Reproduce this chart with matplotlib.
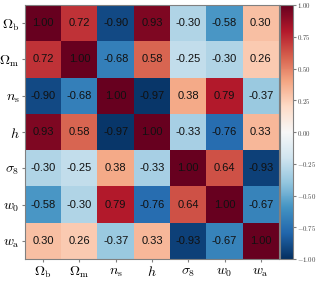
import numpy as np
import matplotlib
matplotlib.use("Agg")
import matplotlib.pyplot as plt

plt.rcParams['mathtext.fontset'] = 'cm'

params = [r'$\Omega_{\rm b}$', r'$\Omega_{\rm m}$', r'$n_{\rm s}$', r'$h$',
          r'$\sigma_8$', r'$w_0$', r'$w_{\rm a}$']

row_ob = [1.00, 0.72, -0.90, 0.93, -0.30, -0.58, 0.30]
row_om = [0.72, 1.00, -0.68, 0.58, -0.25, -0.30, 0.26]
row_ns = [-0.90, -0.68, 1.00, -0.97, 0.38, 0.79, -0.37]
row_h = [0.93, 0.58, -0.97, 1.00, -0.33, -0.76, 0.33]
row_s8 = [-0.30, -0.25, 0.38, -0.33, 1.00, 0.64, -0.93]
row_w0 = [-0.58, -0.30, 0.79, -0.76, 0.64, 1.00, -0.67]
row_wa = [0.30, 0.26, -0.37, 0.33, -0.93, -0.67, 1.00]

corr = np.array([row_ob, row_om, row_ns, row_h, row_s8, row_w0, row_wa])
cbar_ticks = [-1.0, -0.75, -0.5, -0.25, 0.0, 0.25, 0.5, 0.75, 1.0]

fig = plt.figure(figsize=(3.16, 2.81), dpi=100)
ax = fig.add_axes([25/316, 1 - 259/281, 254/316, 254/281])
cax = fig.add_axes([280/316, 1 - 259/281, 13/316, 254/281])

im = ax.imshow(corr, cmap='RdBu_r', vmin=-1, vmax=1, aspect='auto')
n = len(params)
for i in range(n):
    for j in range(n):
        ax.text(j, i, "%.2f" % corr[i, j], ha='center', va='center',
                fontsize=8, family='Liberation Sans', color='#111111')

ax.set_xticks(range(n))
ax.set_yticks(range(n))
ax.set_xticklabels(params, fontsize=10)
ax.set_yticklabels(params, fontsize=10)
ax.tick_params(length=2, color='gray', pad=2)
for s in ax.spines.values():
    s.set_color('gray')

cb = fig.colorbar(im, cax=cax, ticks=cbar_ticks)
# colorbar labels in computer modern, like the rest of the math text
cb.ax.set_yticklabels([r"$%.2f$" % t for t in cbar_ticks], fontsize=5,
                      color='#444444')
cb.ax.tick_params(length=2, color='gray', pad=1)
cb.outline.set_edgecolor('gray')

fig.savefig("out.png", dpi=100)
